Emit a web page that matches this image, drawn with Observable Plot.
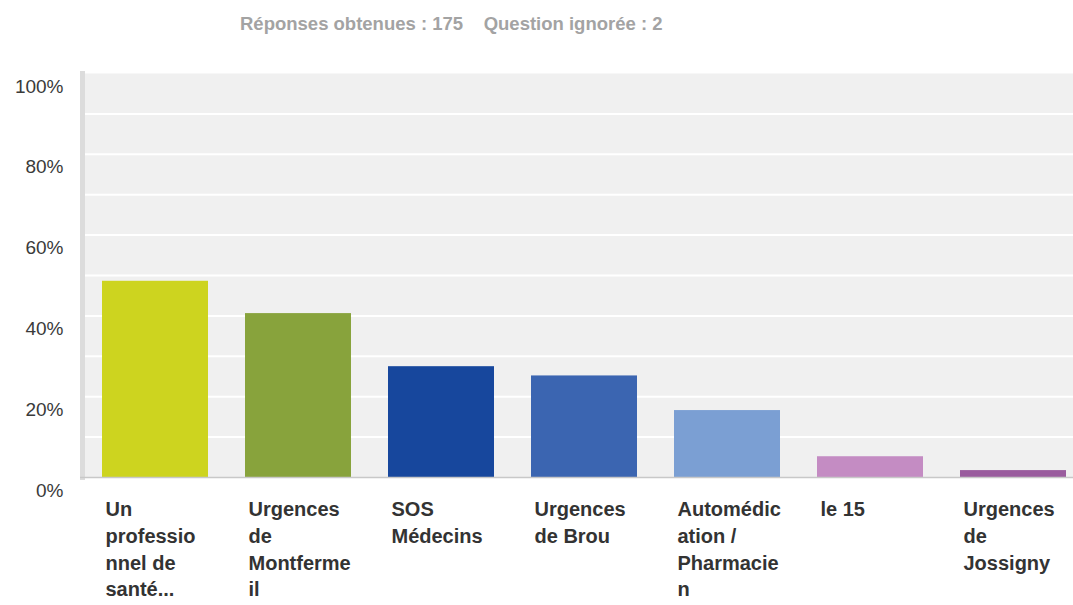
<!DOCTYPE html>
<html>
<head>
<meta charset="utf-8">
<script src="https://cdn.jsdelivr.net/npm/d3@7"></script>
<script src="https://cdn.jsdelivr.net/npm/@observablehq/plot@0.6"></script>
<style>
  html, body { margin: 0; padding: 0; background: #fff; }
  body { width: 1073px; height: 605px; position: relative; overflow: hidden; font-family: "Liberation Sans", Arial, Helvetica, sans-serif; }
  #header { position: absolute; left: 240px; top: 13px; font-size: 18.5px; font-weight: bold; color: #a3a3a3; white-space: pre; }
  #chart { position: absolute; left: 0; top: 0; }
</style>
</head>
<body>
<div id="header">Réponses obtenues : 175    Question ignorée : 2</div>
<div id="chart"></div>
<script>
const categories = [
  "Un professionnel de santé...",
  "Urgences de Montfermeil",
  "SOS Médecins",
  "Urgences de Brou",
  "Automédication / Pharmacien",
  "le 15",
  "Urgences de Jossigny"
];
const tickLabels = [
  "Un\nprofessio\nnnel de\nsanté...",
  "Urgences\nde\nMontferme\nil",
  "SOS\nMédecins",
  "Urgences\nde Brou",
  "Automédic\nation /\nPharmacie\nn",
  "le 15",
  "Urgences\nde\nJossigny"
];
const values = [0.4857, 0.4057, 0.2743, 0.2514, 0.1657, 0.0514, 0.0171];
const colors = ["#cdd41f", "#88a33c", "#17479d", "#3b65b1", "#7b9fd3", "#c48cc3", "#9a5c9e"];
const yTicks = [0, 0.2, 0.4, 0.6, 0.8, 1];
const gridTicks = [0.1, 0.2, 0.3, 0.4, 0.5, 0.6, 0.7, 0.8, 0.9];

const data = categories.map((c, i) => ({category: c, value: values[i], label: tickLabels[i]}));

const chart = Plot.plot({
  width: 1073,
  height: 605,
  marginTop: 73,
  marginBottom: 128,
  marginLeft: 80,
  marginRight: 0,
  style: {fontFamily: '"Liberation Sans", Arial, Helvetica, sans-serif', background: "transparent"},
  x: {domain: categories, range: [64, 1104], padding: 0.26, axis: null},
  y: {domain: [0, 1], axis: null},
  color: {domain: categories, range: colors},
  marks: [
    Plot.frame({fill: "#f0f0f0", stroke: null}),
    Plot.gridY(gridTicks, {stroke: "#ffffff", strokeOpacity: 1, strokeWidth: 2}),
    Plot.frame({anchor: "left", stroke: "#dcdcdc", strokeWidth: 5, dx: 2}),
    Plot.barY(data, {x: "category", y: "value", fill: "category"}),
    Plot.ruleY([0], {stroke: "#c8c8c8", strokeWidth: 1.5}),
    Plot.axisY(yTicks, {
      tickFormat: d => `${Math.round(d * 100)}%`,
      tickSize: 0, tickPadding: 17, fontSize: 19, fill: "#3a3a3a", dy: 13, label: null
    }),
    Plot.text(data, {
      x: "category", y: () => 0, text: "label",
      textAnchor: "start", lineAnchor: "top", dx: -50, dy: 20,
      fontSize: 20, fontWeight: "bold", fill: "#333", lineHeight: 1.33
    })
  ]
});
document.getElementById("chart").appendChild(chart);
</script>
</body>
</html>
